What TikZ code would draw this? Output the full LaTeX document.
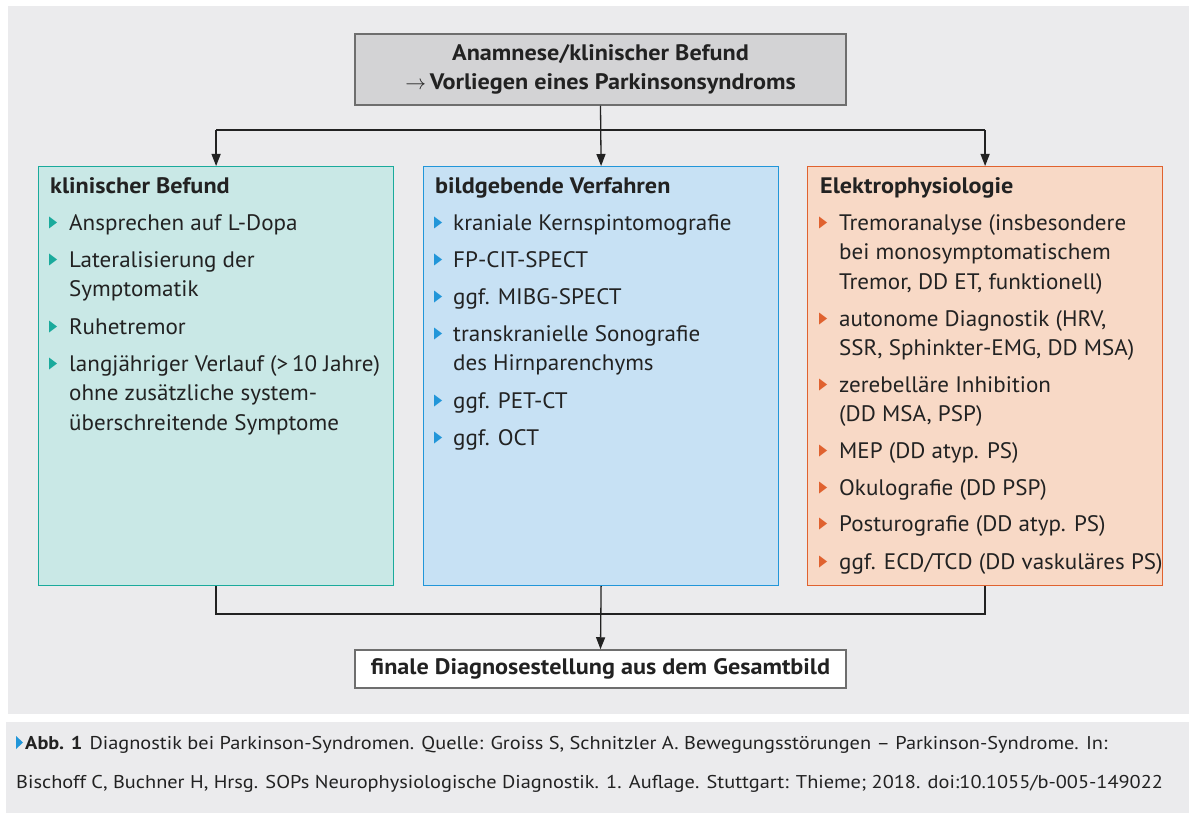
\documentclass[tikz,border=0pt]{standalone}
\usepackage{fontspec}
\setmainfont{PT Sans}[FakeStretch=1.03, BoldFeatures={FakeStretch=1.08}]
\newfontfamily\capfont[FakeStretch=1.1]{PT Sans}
\usetikzlibrary{arrows.meta,positioning}

\definecolor{bggray}{HTML}{EBEBED}
\definecolor{topfill}{HTML}{D3D3D5}
\definecolor{frame}{HTML}{6E6E6E}
\definecolor{txtcol}{HTML}{222222}
\definecolor{tealfill}{HTML}{C9E8E6}
\definecolor{tealline}{HTML}{1AAA9C}
\definecolor{bluefill}{HTML}{C7E1F4}
\definecolor{blueline}{HTML}{2196D9}
\definecolor{orfill}{HTML}{F8D9C6}
\definecolor{orline}{HTML}{E0622F}

\newcommand\bodyfont{\fontsize{22.4}{29.5}\selectfont}

\tikzset{
  colbox/.style={draw, line width=1.2pt, inner sep=0pt, anchor=north west,
    minimum width=355pt, minimum height=419pt},
  head/.style={anchor=base west, inner sep=0pt, font=\bodyfont\bfseries},
  itemtxt/.style={anchor=north west, inner sep=0pt, align=left},
  conn/.style={line width=1.3pt, txtcol},
  arr/.style={conn, -{Triangle[length=12pt,width=9pt]}}
}

\begin{document}
\begin{tikzpicture}[x=1pt,y=-1pt, font=\bodyfont, text=txtcol]
        \useasboundingbox (0,0) rectangle (1189,813);
        \fill [white] (0,0) rectangle (1189,813);
        \fill [bggray] (8,6) rectangle (1189,714);
        \fill [bggray] (6,722) rectangle (1189,813);
        %
        \node [draw=frame, fill=topfill, line width=1.5pt, minimum width=491pt,
          minimum height=71pt, align=center, font=\bodyfont\bfseries, inner sep=0pt]
          (anam) at (600.5,69.5) {Anamnese/klinischer Befund\\$\rightarrow$\,Vorliegen eines Parkinsonsyndroms};
        %
        \node [colbox, draw=tealline, fill=tealfill] (klin) at (38,166) {};
        \node [colbox, draw=blueline, fill=bluefill] (bild) at (423,166) {};
        \node [colbox, draw=orline, fill=orfill] (elek) at (807,166) {};
        %
        \node [draw=frame, fill=white, line width=1.5pt, minimum width=491pt,
          minimum height=38pt, font=\bodyfont\bfseries, inner sep=0pt]
          (final) at (600.5,669) {finale Diagnosestellung aus dem Gesamtbild};
        %
        \coordinate (topbus) at (600.5,130);
        \coordinate (botbus) at (600.5,614);
        \draw [conn] (klin.north |- topbus) -- (elek.north |- topbus);
        \draw [arr] (anam.south) -- (bild.north);
        \draw [arr] (klin.north |- topbus) -- (klin.north);
        \draw [arr] (elek.north |- topbus) -- (elek.north);
        \draw [conn] (klin.south) -- (klin.south |- botbus) -- (elek.south |- botbus) -- (elek.south);
        \draw [arr] (bild.south) -- (final.north);
        %
        \node [head] (klin-h) at (50,194) {klinischer Befund};
        \node [head] (bild-h) at (435,194) {bildgebende Verfahren};
        \node [head] (elek-h) at (820,194) {Elektrophysiologie};
        %
        \foreach \bl/\txt [count=\i] in {230/{Ansprechen auf L-Dopa},
            267/{Lateralisierung der\\Symptomatik}, 334/{Ruhetremor},
            371/{langjähriger Verlauf (>\,10 Jahre)\\ohne zusätzliche system-\\überschreitende Symptome}} {
          \fill [tealline] (49,\bl-13.5) -- (57,\bl-7.5) -- (49,\bl-1.5) -- cycle;
          \node [itemtxt] (klin-\i) at (69,\bl-20.65) {\strut\txt};
        }
        \foreach \bl/\txt [count=\i] in {230/{kraniale Kernspintomografie},
            267/{FP-CIT-SPECT}, 304/{ggf. MIBG-SPECT},
            341/{transkranielle Sonografie\\des Hirnparenchyms},
            408/{ggf. PET-CT}, 445/{ggf. OCT}} {
          \fill [blueline] (434,\bl-13.5) -- (442,\bl-7.5) -- (434,\bl-1.5) -- cycle;
          \node [itemtxt] (bild-\i) at (453,\bl-20.65) {\strut\txt};
        }
        \foreach \bl/\txt [count=\i] in {230/{Tremoranalyse (insbesondere\\bei monosymptomatischem\\Tremor, DD ET, funktionell)},
            326/{autonome Diagnostik (HRV,\\SSR, Sphinkter-EMG, DD MSA)},
            392/{zerebelläre Inhibition\\(DD MSA, PSP)},
            458/{MEP (DD atyp. PS)}, 495/{Okulografie (DD PSP)},
            531/{Posturografie (DD atyp. PS)}, 569/{ggf. ECD/TCD (DD vaskuläres PS)}} {
          \fill [orline] (819,\bl-13.5) -- (827,\bl-7.5) -- (819,\bl-1.5) -- cycle;
          \node [itemtxt] (elek-\i) at (839,\bl-20.65) {\strut\txt};
        }
        %
        \fill [blueline] (16,736) -- (23,742.5) -- (16,749) -- cycle;
        \node [anchor=north west, inner sep=0pt, align=left,
          font=\capfont\fontsize{18.5}{39}\selectfont] (capt) at (16,749-27.3)
          {\strut\hspace{9pt}\textbf{Abb. 1}\hspace{7pt}Diagnostik bei Parkinson-Syndromen. Quelle: Groiss S, Schnitzler A. Bewegungsstörungen – Parkinson-Syndrome. In:\\Bischoff C, Buchner H, Hrsg. SOPs Neurophysiologische Diagnostik. 1. Auflage. Stuttgart: Thieme; 2018. doi:10.1055/b-005-149022};
      \end{tikzpicture}
\end{document}
